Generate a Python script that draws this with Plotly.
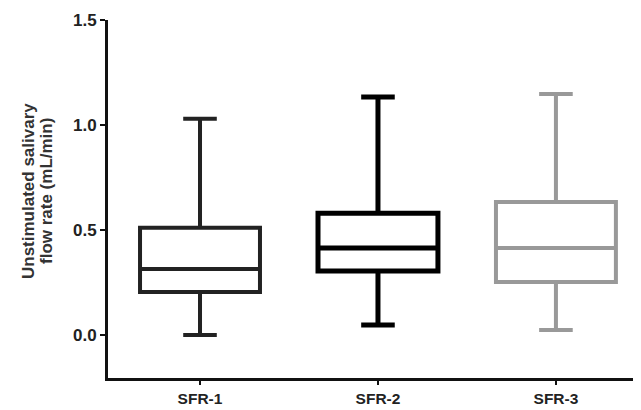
import plotly.graph_objects as go

categories = ["SFR-1", "SFR-2", "SFR-3"]
mins = [0.0, 0.048, 0.024]
q1s = [0.205, 0.305, 0.252]
medians = [0.314, 0.414, 0.414]
q3s = [0.51, 0.58, 0.633]
maxs = [1.03, 1.133, 1.148]
colors = ["#222222", "#000000", "#999999"]
widths = [4, 5, 4]
ytick_vals = [0, 0.5, 1.0, 1.5]
ytick_text = ["0.0", "0.5", "1.0", "1.5"]
ytitle_lines = ["Unstimulated salivary", "flow rate (mL/min)"]

FONT = "Liberation Sans, Arial, sans-serif"

fig = go.Figure()
for i, c in enumerate(categories):
    fig.add_trace(go.Box(
        x=[c], q1=[q1s[i]], median=[medians[i]], q3=[q3s[i]],
        lowerfence=[mins[i]], upperfence=[maxs[i]],
        boxpoints=False, fillcolor="white",
        line=dict(color=colors[i], width=widths[i]),
        whiskerwidth=0.28, width=0.674, showlegend=False,
        hoverinfo="skip",
    ))

# y-axis title as two tightly spaced rotated lines
for txt, xs in zip(ytitle_lines, [-80, -62]):
    fig.add_annotation(text="<b>%s</b>" % txt, xref="paper", yref="paper",
                       x=0, y=0.5, xshift=xs, yshift=8, textangle=-90,
                       showarrow=False, xanchor="center", yanchor="middle",
                       font=dict(family=FONT, size=17, color="#333333"))

# page body has an 8px default margin; compensate in size/margins
fig.update_layout(
    width=633, height=402,
    margin=dict(l=100, r=0, t=12, b=32, autoexpand=False),
    plot_bgcolor="white", paper_bgcolor="white",
    font=dict(family=FONT, size=16, color="#222222"),
    xaxis=dict(range=[-0.517, 2.478], showline=True, linewidth=3, linecolor="#111111",
               ticks="outside", ticklen=4, tickwidth=2, tickcolor="#111111",
               showgrid=False, zeroline=False,
               tickvals=categories, ticktext=["<b>%s</b>" % c for c in categories],
               tickfont=dict(family=FONT, size=15.5, color="#222222")),
    yaxis=dict(range=[-0.205, 1.5], showline=True, linewidth=3, linecolor="#111111",
               tickvals=ytick_vals, ticktext=["<b>%s</b>" % t for t in ytick_text],
               ticks="outside", ticklen=5, tickwidth=2, tickcolor="#111111",
               showgrid=False, zeroline=False,
               tickfont=dict(family=FONT, size=17, color="#222222")),
)
fig.write_html("out.html")
